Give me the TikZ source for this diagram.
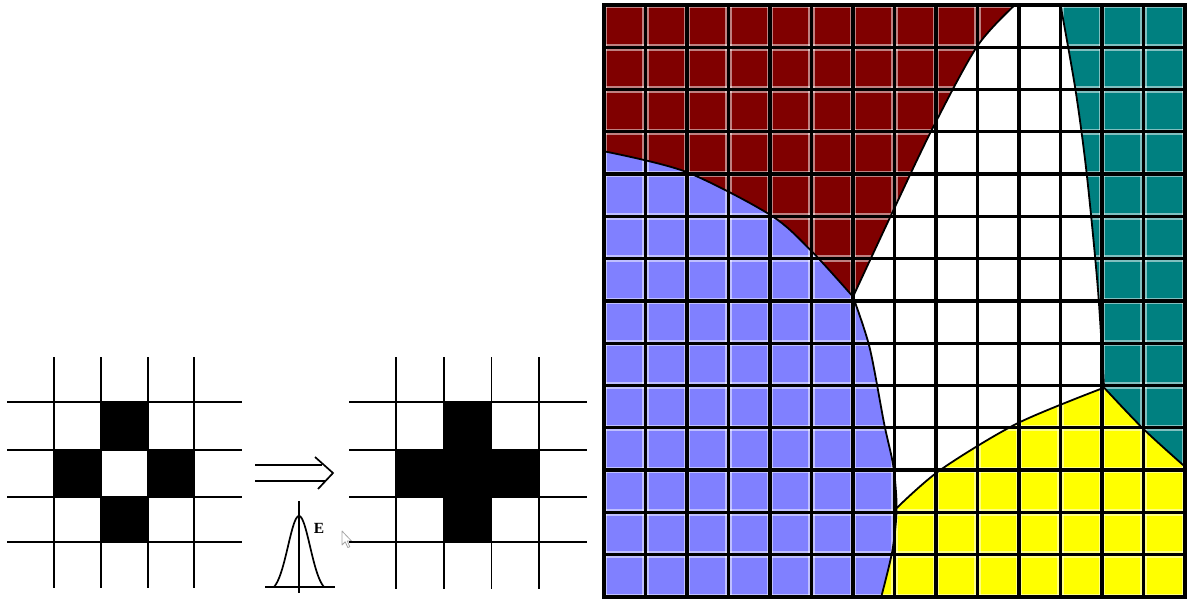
\documentclass[tikz,border=0pt]{standalone}
\usepackage{tikz}
\usepackage{fontspec}
\newfontfamily\efont{Liberation Serif}
\definecolor{cred}{RGB}{128,0,0}
\definecolor{cteal}{RGB}{0,128,128}
\definecolor{cblue}{RGB}{128,128,255}
\definecolor{cyel}{RGB}{255,255,0}
\tikzset{
  thinline/.style={black, line width=1.7pt},
  rimline/.style={white, opacity=0.5, line width=6.5pt},
  gridline/.style={black, line width=3.3pt},
  bnd/.style={black, line width=1.8pt},
}
\begin{document}
\begin{tikzpicture}[x=1pt, y=-1pt]
\useasboundingbox (0,0) rectangle (1192,599);

% ---------- left grid ----------
\fill (101,402) rectangle (148,450);
\fill (54,450) rectangle (101,497);
\fill (148,450) rectangle (194,497);
\fill (101,497) rectangle (148,542);
\foreach \x in {54,101,148,194} \draw[thinline] (\x,357) -- (\x,588);
\foreach \y in {402,450,497,542} \draw[thinline] (7,\y) -- (242,\y);

% ---------- arrow ----------
\draw[thinline] (255,465) -- (322,465);
\draw[thinline] (255,481) -- (325,481);
\draw[thinline, line join=miter] (315,457) -- (333,473) -- (318,489);

% ---------- gaussian ----------
\draw[thinline] (265,587) -- (335,587);
\draw[thinline] (299,501) -- (299,593);
\draw[thinline] plot[domain=-25:25, samples=61, smooth]
  ({299+\x}, {587-71*(exp(0-(\x)*(\x)/242)-0.0756)/0.9244});
\node[font=\efont\bfseries\fontsize{15.5}{16}\selectfont, inner sep=0pt] (lblE) at (319,528) {E};

% ---------- cursor ----------
\draw[gray!70, fill=white, line width=0.8pt, line join=round]
  (342,531) -- (342,545) -- (345.2,541.8) -- (347.8,547.5) -- (349.8,546.7) -- (347.3,541) -- (351.5,541) -- cycle;

% ---------- right grid ----------
\fill (396,450) rectangle (539,497);
\fill (444,402) rectangle (491.5,542);
\foreach \x in {396,444,491.5,539} \draw[thinline] (\x,357) -- (\x,589);
\foreach \y in {402,450,497,542} \draw[thinline] (349,\y) -- (587,\y);

% ---------- coloured grid ----------
\begin{scope}[shift={(604pt,-5pt)}, x=41.5pt, y=-42.28pt]
  \fill[white] (0,0) rectangle (14,14);
  % red
  \fill[cred] (0,0) -- (9.9,0)
    -- plot[smooth] coordinates {(9.9,0) (8.99,0.98) (7.9,2.95) (6.98,4.84) (6,6.9)}
    -- plot[smooth] coordinates {(6,6.9) (4.97,5.79) (4.0,4.96) (1.96,3.94) (0,3.46)}
    -- cycle;
  % teal
  \fill[cteal] (11,0) -- (14,0) -- (14,10.92)
    -- plot[smooth] coordinates {(14,10.92) (13,10.03) (12.05,9.05)}
    -- plot[smooth] coordinates {(12.05,9.05) (11.9,6.7) (11.63,3.98) (11.36,2.0) (11,0)}
    -- cycle;
  % blue
  \fill[cblue] (0,3.46)
    -- plot[smooth] coordinates {(0,3.46) (1.96,3.94) (4.0,4.96) (4.97,5.79) (6,6.9)}
    -- plot[smooth] coordinates {(6,6.9) (6.4,8.1) (6.75,9.9) (6.97,10.9) (7.05,11.9) (6.95,12.9) (6.68,14)}
    -- (0,14) -- cycle;
  % yellow
  \fill[cyel] (7.05,11.9)
    -- plot[smooth] coordinates {(7.05,11.9) (8.1,11.0) (9.95,9.9) (12.05,9.05)}
    -- plot[smooth] coordinates {(12.05,9.05) (13,10.03) (14,10.92)}
    -- (14,14) -- (6.68,14)
    -- plot[smooth] coordinates {(6.68,14) (6.95,12.9) (7.05,11.9)}
    -- cycle;
  % cell rims
  \foreach \i in {0,...,14} {
    \draw[rimline] (\i,0) -- (\i,14);
    \draw[rimline] (0,\i) -- (14,\i);
  }
  % grid lines
  \foreach \i in {1,...,13} {
    \draw[gridline] (\i,0) -- (\i,14);
    \draw[gridline] (0,\i) -- (14,\i);
  }
  % region boundaries
  \draw[bnd] plot[smooth] coordinates {(9.9,0) (8.99,0.98) (7.9,2.95) (6.98,4.84) (6,6.9)};
  \draw[bnd] plot[smooth] coordinates {(0,3.46) (1.96,3.94) (4.0,4.96) (4.97,5.79) (6,6.9)};
  \draw[bnd] plot[smooth] coordinates {(6,6.9) (6.4,8.1) (6.75,9.9) (6.97,10.9) (7.05,11.9) (6.95,12.9) (6.68,14)};
  \draw[bnd] plot[smooth] coordinates {(11,0) (11.36,2.0) (11.63,3.98) (11.9,6.7) (12.05,9.05)};
  \draw[bnd] plot[smooth] coordinates {(12.05,9.05) (13,10.03) (14,10.92)};
  \draw[bnd] plot[smooth] coordinates {(7.05,11.9) (8.1,11.0) (9.95,9.9) (12.05,9.05)};
  % border
  \draw[black, line width=4pt] (0,0) rectangle (14,14);
\end{scope}
\end{tikzpicture}
\end{document}
